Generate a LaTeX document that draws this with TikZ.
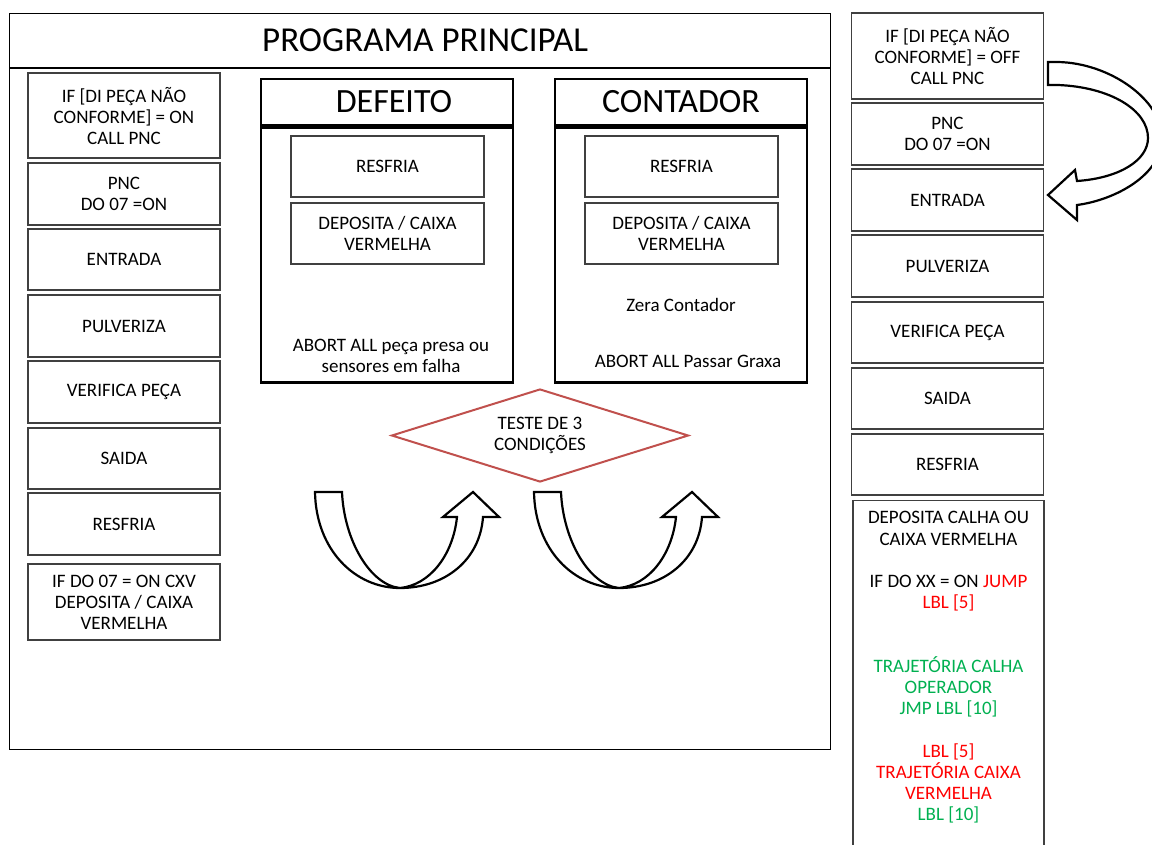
\documentclass[tikz,border=0pt]{standalone}
\usepackage{fontspec}
\setmainfont{Carlito}
\usetikzlibrary{shapes.geometric}
\tikzset{>=stealth}
\definecolor{vermelho}{HTML}{FF0000}
\definecolor{verde}{HTML}{00B050}
\definecolor{losango}{HTML}{C0504D}
\tikzset{
  passo/.style={draw=black!75, line width=1.1pt, minimum width=192pt, align=center, inner sep=0pt, font=\fontsize{19}{21}\selectfont},
  bloco/.style={draw, line width=2.6pt, minimum width=252pt, inner sep=0pt},
  texto/.style={align=center, inner sep=0pt, font=\fontsize{19}{21.2}\selectfont},
  seta/.style={draw, line width=2.2pt, fill=white, line join=miter},
}

\begin{document}
\begin{tikzpicture}[x=1pt, y=-1pt, line width=1.2pt]
    \useasboundingbox (0,0) rectangle (1152,844);

    % programa principal
    \node[draw, minimum width=821pt, minimum height=54pt, anchor=north west, inner sep=0pt,
          font=\fontsize{35}{38}\selectfont] (titulo) at (9,13) {\hspace*{10pt}PROGRAMA PRINCIPAL};
    \node[draw, minimum width=821pt, minimum height=681pt, anchor=north west, inner sep=0pt] (principal) at (titulo.south west) {};

    \foreach \nome/\y/\h/\txt in {
        pe1/115.5/85/{IF [DI PEÇA NÃO\\CONFORME] = ON\\CALL PNC},
        pe2/194/62/{PNC\\DO 07 =ON},
        pe3/259.5/61/ENTRADA,
        pe4/326/62/PULVERIZA,
        pe5/392/62/VERIFICA PEÇA,
        pe6/458.5/61/SAIDA,
        pe7/524/62/RESFRIA,
        pe8/602/76/{IF DO 07 = ON CXV\\DEPOSITA /  CAIXA\\VERMELHA}}
    {\node[passo, minimum height=\h pt] (\nome) at (124,\y) {\txt}; }

    % defeito
    \node[bloco, minimum height=46pt, font=\fontsize{34}{36}\selectfont] (defeito) at (387,102) {\hspace*{14pt}DEFEITO};
    \node[bloco, minimum height=255pt, anchor=north] (defeitocorpo) at (defeito.south) {};
    \node[passo, minimum width=193pt, minimum height=61pt] (dresfria) at (387.5,166.5) {RESFRIA};
    \node[passo, minimum width=193pt, minimum height=61pt] (ddeposita) at (387.5,233.5) {DEPOSITA / CAIXA\\VERMELHA};
    \node[texto] (dabort) at (391,356) {ABORT ALL peça presa ou\\sensores em falha};

    % contador
    \node[bloco, minimum height=46pt, font=\fontsize{34}{36}\selectfont] (contador) at (681,102) {CONTADOR};
    \node[bloco, minimum height=255pt, anchor=north] (contadorcorpo) at (contador.south) {};
    \node[passo, minimum width=193pt, minimum height=61pt] (cresfria) at (681.5,166.5) {RESFRIA};
    \node[passo, minimum width=193pt, minimum height=61pt] (cdeposita) at (681.5,233.5) {DEPOSITA / CAIXA\\VERMELHA};
    \node[texto] (zera) at (681,305) {Zera Contador};
    \node[texto] (cabort) at (688,361) {ABORT ALL Passar Graxa};

    \node[texto, diamond, draw=losango, line width=2pt, aspect=3.2, minimum width=297pt, minimum height=93pt] (teste) at (540,435.5) {TESTE DE 3\\CONDIÇÕES};

    % setas em U
    \foreach \dx in {0,219}
    {\begin{scope}[xshift=\dx pt]
    \draw[seta] (315,492) -- (342,492) .. controls (344,540) and (370,585) .. (400,588)
        .. controls (430,585) and (453,555) .. (457,517) -- (443,517) -- (473,492) -- (499,517) -- (483,517)
        .. controls (480,560) and (445,588) .. (400,588) .. controls (355,588) and (316,550) .. (315,492) -- cycle;
    \end{scope}}

    % chamada PNC
    \foreach \nome/\y/\h/\txt in {
        pd1/56/86/{IF [DI PEÇA NÃO\\CONFORME] = OFF\\CALL PNC},
        pd2/134/62/{PNC\\DO 07 =ON},
        pd3/200/62/ENTRADA,
        pd4/266/62/PULVERIZA,
        pd5/332.5/61/VERIFICA PEÇA,
        pd6/398.5/61/SAIDA,
        pd7/464.5/61/RESFRIA}
    {\node[passo, minimum height=\h pt] (\nome) at (947.5,\y) {\txt}; }
    \node[passo, minimum width=191pt, minimum height=360pt, anchor=north] (pd8) at (948.5,500) {};
    \node[texto, anchor=north] (pd8txt) at ([yshift=-11pt]pd8.north) {DEPOSITA CALHA OU\\CAIXA VERMELHA\\[21.2pt]
        IF DO XX = ON \textcolor{vermelho}{JUMP}\\\textcolor{vermelho}{LBL [5]}\\[42.4pt]
        \textcolor{verde}{TRAJETÓRIA CALHA}\\\textcolor{verde}{OPERADOR}\\\textcolor{verde}{JMP LBL [10]}\\[21.2pt]
        \textcolor{vermelho}{LBL [5]}\\\textcolor{vermelho}{TRAJETÓRIA CAIXA}\\\textcolor{vermelho}{VERMELHA}\\\textcolor{verde}{LBL [10]}};

    \draw[seta] (1048,62) -- (1058,62) .. controls (1110,63) and (1162,100) .. (1162,138)
        .. controls (1162,175) and (1115,200) .. (1077,205) -- (1077,220) -- (1048,195) -- (1075,170) -- (1077,181)
        .. controls (1120,178) and (1148,160) .. (1148,138) .. controls (1148,110) and (1110,87) .. (1058,85)
        -- (1048,85) -- cycle;

\end{tikzpicture}
\end{document}
